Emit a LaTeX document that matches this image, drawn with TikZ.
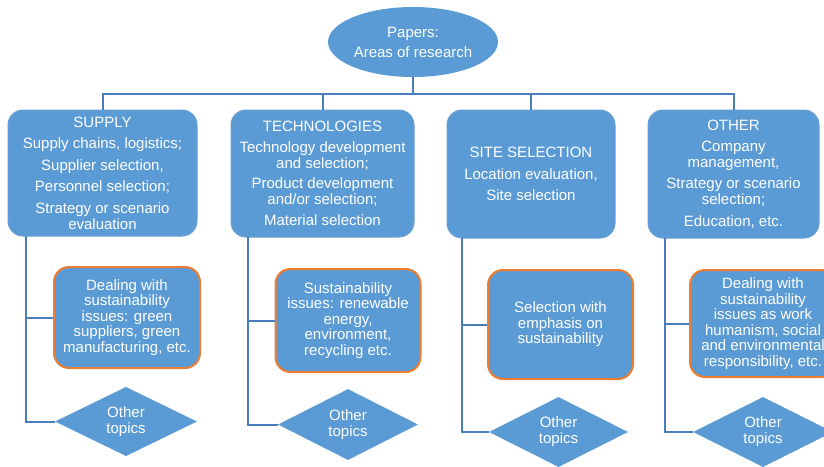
\documentclass[tikz,border=0pt]{standalone}
\usepackage{fontspec}
\setmainfont{Liberation Sans}
\usetikzlibrary{shapes.geometric}
\definecolor{fillblue}{HTML}{5B9BD5}
\definecolor{edgeblue}{HTML}{6A9FD6}
\definecolor{linkblue}{HTML}{4A7EBB}
\definecolor{orangeedge}{HTML}{ED7D31}
\tikzset{
  topbox/.style={rectangle, rounded corners=15pt, fill=fillblue, draw=edgeblue, line width=1pt,
    text=white, align=center, inner sep=0pt, font=\fontsize{15}{16}\selectfont},
  subbox/.style={rectangle, rounded corners=15pt, fill=fillblue, draw=orangeedge, line width=2pt,
    text=white, align=center, inner sep=0pt, font=\fontsize{15}{15.5}\selectfont},
  topic/.style={diamond, fill=fillblue, draw=none, text=white, align=center, inner sep=0pt,
    font=\fontsize{15}{16}\selectfont},
  rootnode/.style={ellipse, fill=fillblue, draw=none, text=white, align=center, inner sep=0pt,
    font=\fontsize{15}{20}\selectfont},
  conn/.style={draw=linkblue, line width=2pt}
}
\begin{document}
\begin{tikzpicture}[x=1pt,y=-1pt]
\useasboundingbox (0,0) rectangle (824,466);
\clip (0,0) rectangle (824,466);
% root
\node[rootnode, minimum width=170pt, minimum height=70pt] (root) at (413,42) {Papers:\\Areas of research};
% top boxes
\node[topbox, minimum width=189pt, minimum height=126pt] (b1) at (102.5,173)
  {SUPPLY\\[5.5pt]Supply chains, logistics;\\[5.5pt]Supplier selection,\\[5.5pt]Personnel selection;\\[5.5pt]Strategy or scenario\\evaluation};
\node[topbox, minimum width=183pt, minimum height=127pt] (b2) at (322.5,173.5)
  {TECHNOLOGIES\\[5pt]Technology development\\and selection;\\[4pt]Product development\\and/or selection;\\[5pt]Material selection};
\node[topbox, minimum width=168pt, minimum height=128pt] (b3) at (531,174)
  {SITE SELECTION\\[5.5pt]Location evaluation,\\[5.5pt]Site selection};
\node[topbox, minimum width=171pt, minimum height=128pt] (b4) at (733.5,174)
  {OTHER\\[5.5pt]Company\\management,\\[5pt]Strategy or scenario\\selection;\\[5.5pt]Education, etc.};
% sustainability boxes
\node[subbox, minimum width=146pt, minimum height=101pt] (o1) at (127,317.5)
  {Dealing with\\sustainability\\issues: green\\suppliers, green\\manufacturing, etc.};
\node[subbox, minimum width=145pt, minimum height=103pt] (o2) at (348,320.5)
  {Sustainability\\issues: renewable\\energy,\\environment,\\recycling etc.};
\node[subbox, minimum width=145pt, minimum height=109pt] (o3) at (560.5,324.5)
  {Selection with\\emphasis on\\sustainability};
\node[subbox, minimum width=146pt, minimum height=107pt] (o4) at (763,323.5)
  {Dealing with\\sustainability\\issues as work\\humanism, social\\and environmental\\responsibility, etc.};
% diamonds
\node[topic, minimum width=142pt, minimum height=69pt] (d1) at (126,421.5) {Other\\topics};
\node[topic, minimum width=140pt, minimum height=71pt] (d2) at (348,424.5) {Other\\topics};
\node[topic, minimum width=139pt, minimum height=70pt] (d3) at (558.5,432) {Other\\topics};
\node[topic, minimum width=140pt, minimum height=70pt] (d4) at (763,432) {Other\\topics};
% top connectors
\coordinate (hub) at (413,94);
\draw[conn] (root.south) -- (hub);
\draw[conn] (b1.north) -- (b1.north |- hub) -- (b4.north |- hub) -- (b4.north);
\draw[conn] (b2.north) -- (b2.north |- hub);
\draw[conn] (b3.north) -- (b3.north |- hub);
% spines
\coordinate (s1) at (26,236);
\coordinate (s2) at (248,237);
\coordinate (s3) at (462,238);
\coordinate (s4) at (665,238);
\draw[conn] (s1) |- (d1.west);
\draw[conn] (s1 |- o1.west) -- (o1.west);
\draw[conn] (s2) |- (d2.west);
\draw[conn] (s2 |- o2.west) -- (o2.west);
\draw[conn] (s3) |- (d3.west);
\draw[conn] (s3 |- o3.west) -- (o3.west);
\draw[conn] (s4) |- (d4.west);
\draw[conn] (s4 |- o4.west) -- (o4.west);
\end{tikzpicture}
\end{document}
